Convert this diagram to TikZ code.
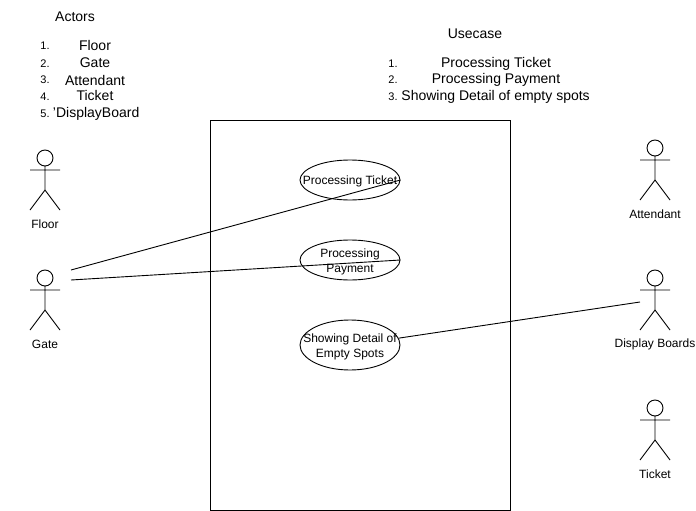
\documentclass[tikz,border=0pt]{standalone}
\usepackage{fontspec}
\setmainfont{Liberation Sans}
\usetikzlibrary{shapes.geometric}
\tikzset{
        % Plain text nodes
        node_text/.style={anchor=base, inner sep=0pt, font=\fontsize{14}{16}\selectfont},
        node_number/.style={inner sep=0pt, anchor=base west, font=\fontsize{11}{13}\selectfont},
        % System boundary
        node_system/.style={rectangle, draw=black, minimum width=300pt, minimum height=390pt},
        % Use case nodes
        node_usecase/.style={ellipse, draw=black, align=center, inner sep=-20pt, minimum width=100pt, font=\fontsize{12}{15}\selectfont},
        % Stick figure with its name below
        actor/.pic={
            \draw (0,8) circle (8) (0,16) -- (0,40) (-15,20) -- (15,20) (-15,60) -- (0,40) -- (15,60);
            \node[inner sep=0pt, font=\fontsize{12}{14}\selectfont] (-name) at (0,74) {#1};
        }
}
\begin{document}
\begin{tikzpicture}[x=1pt, y=-1pt, line width=0.9pt]
    \useasboundingbox (0,0) rectangle (696,511);
    % Actor list
    \node[node_text] (actors_title) at (75,22) {Actors};
    \node[node_number] (actors_1) at (40,50) {1.};
    \node[node_number] (actors_2) at (40,67) {2.};
    \node[node_number] (actors_3) at (40,84) {3.};
    \node[node_number] (actors_4) at (40,100) {4.};
    \node[node_number] (actors_5) at (40,117) {5.};
    \node[node_text] (actors_floor) at (95,51) {Floor};
    \node[node_text] (actors_gate) at (95,67) {Gate};
    \node[node_text] (actors_attendant) at (95,85) {Attendant};
    \node[node_text] (actors_ticket) at (95,100) {Ticket};
    \node[node_text, anchor=base west] (actors_board) at (52.5,117) {'DisplayBoard};
    % Use case list
    \node[node_text] (usecase_title) at (475,39) {Usecase};
    \node[node_number] (usecase_1) at (388,67) {1.};
    \node[node_number] (usecase_2) at (388,84) {2.};
    \node[node_number] (usecase_3) at (388,100) {3.};
    \node[node_text] (usecase_ticket) at (496,67) {Processing Ticket};
    \node[node_text] (usecase_payment) at (496,84) {Processing Payment};
    \node[node_text, anchor=base west] (usecase_detail) at (401,100) {Showing Detail of empty spots};
    % System
    \node[node_system] (system) at (360,315) {};
    \node[node_usecase, minimum height=40pt] (ticket) at (350,180) {\rule{0pt}{12pt}Processing Ticket};
    \node[node_usecase, minimum height=40pt] (payment) at (350,260) {\rule{0pt}{12pt}Processing\\Payment};
    \node[node_usecase, minimum height=50pt] (detail) at (350,345) {\rule{0pt}{12pt}Showing Detail of\\Empty Spots};
    % Actors
    \pic (floor) at (45,150) {actor={Floor}};
    \pic (gate) at (45,270) {actor={Gate}};
    \pic (attendant) at (655,140) {actor={Attendant}};
    \pic (boards) at (655,270) {actor={Display Boards}};
    \pic (ticketactor) at (655,400) {actor={Ticket}};
    % Free ends of the connectors
    \coordinate (gate_top) at (71,270);
    \coordinate (gate_low) at (71,280);
    \coordinate (boards_end) at (640,302);
    \draw (gate_top) -- (ticket.east);
    \draw (gate_low) -- (payment.east);
    \draw (detail.8) -- (boards_end);
\end{tikzpicture}
\end{document}
